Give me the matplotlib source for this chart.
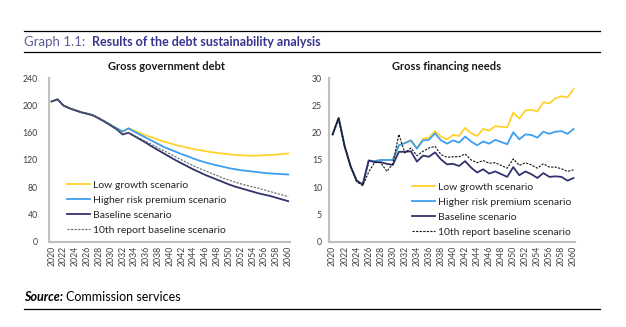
import matplotlib
matplotlib.use("Agg")
import matplotlib.pyplot as plt
from matplotlib.lines import Line2D

plt.rcParams['font.family'] = ['Lato', 'DejaVu Sans']

years = list(range(2020, 2061))

# Gross government debt (% of GDP)
debt_low = [206, 209, 200, 196, 193, 190, 188, 185.5, 181, 176.5, 171.5, 166.5, 162, 166.5,
            163, 159.5, 156, 153, 150, 147, 144.5, 142, 140, 138, 136, 134.5, 133, 131.5,
            130.5, 129.3, 128.3, 127.5, 127, 126.5, 126.3, 126.5, 127, 127.5, 128, 128.8, 129.5]
debt_hrp = [206, 209, 200, 196, 193, 190, 188, 185.5, 181, 176.5, 171.5, 166.5, 162, 166.5,
            161.5, 157, 152.5, 148, 143.5, 139, 135.5, 132, 128.5, 125.5, 122, 119, 116.5, 114,
            112, 110, 108, 106.5, 105, 104, 103, 102, 101, 100.3, 99.7, 99.2, 98.7]
debt_base = [206, 209, 200, 196, 193, 190, 188, 185.5, 181, 176, 170.5, 165, 157.5, 160,
             155, 150, 145, 139.5, 134.5, 129.5, 124.5, 119.5, 115, 110.5, 106, 102, 98, 94.5,
             91, 87.5, 84, 81, 78.5, 76, 73.5, 71, 69, 67, 64.5, 62, 59.5]
debt_10th = [206, 209, 200, 196, 193, 190, 188, 185.5, 181, 176, 170.5, 165, 158.5, 160.5,
             156, 151.5, 147, 142.5, 138, 133.5, 129, 124.5, 120, 115.5, 111.5, 107.5, 104, 100.5,
             97, 93.5, 90.5, 87.5, 85, 82.5, 80.5, 78.5, 76, 73.5, 71, 68.5, 66]

# Gross financing needs (% of GDP)
gfn_low = [19.7, 22.7, 17.5, 13.8, 11.2, 10.5, 14.9, 14.8, 15.0, 15.0, 15.0, 17.7, 18.1, 18.6,
           17.1, 18.9, 19.1, 20.3, 19.3, 18.8, 19.6, 19.4, 20.9, 19.9, 19.4, 20.7, 20.4, 21.2,
           21.1, 21.0, 23.7, 22.6, 24.1, 24.2, 23.9, 25.6, 25.4, 26.3, 26.7, 26.5, 28.0]
gfn_hrp = [19.7, 22.7, 17.5, 13.8, 11.2, 10.5, 14.9, 14.8, 15.0, 15.0, 15.0, 17.7, 18.1, 18.6,
           17.1, 18.6, 18.7, 19.9, 18.6, 18.0, 18.6, 18.2, 19.3, 18.4, 17.7, 18.4, 18.0, 18.7,
           18.3, 17.9, 20.1, 18.8, 19.7, 19.6, 19.1, 20.2, 19.8, 20.2, 20.3, 19.8, 20.7]
gfn_base = [19.7, 22.7, 17.5, 13.8, 11.2, 10.5, 14.9, 14.6, 14.6, 14.3, 14.1, 16.5, 16.5, 16.6,
            14.7, 15.8, 15.6, 16.4, 15.1, 14.2, 14.3, 13.9, 14.8, 13.6, 12.7, 13.3, 12.5, 12.9,
            12.4, 11.9, 13.7, 12.2, 12.9, 12.4, 11.7, 12.6, 11.9, 12.0, 11.9, 11.2, 11.7]
gfn_10th = [19.7, 22.7, 17.5, 13.8, 11.0, 10.3, 12.8, 14.6, 14.5, 12.9, 14.3, 19.7, 16.3, 17.2,
            15.8, 16.6, 17.2, 17.5, 16.0, 15.5, 15.6, 15.6, 16.1, 15.0, 14.5, 14.9, 14.4, 14.5,
            14.0, 13.5, 15.2, 14.0, 14.5, 14.1, 13.5, 14.3, 13.7, 13.7, 13.4, 12.9, 13.2]

labels = ["Low growth scenario", "Higher risk premium scenario",
          "Baseline scenario", "10th report baseline scenario"]
c_low, c_hrp, c_base = "#ffd22e", "#3d9ff0", "#32326e"

W, H = 626, 327
fig = plt.figure(figsize=(W / 100, H / 100), dpi=100)

def px(x, y):
    return x / W, 1 - y / H

def style(ax):
    for s in ["top", "right"]:
        ax.spines[s].set_visible(False)
    for s in ["left", "bottom"]:
        ax.spines[s].set_color("#c0c0c0")
        ax.spines[s].set_linewidth(1.5)
    ax.tick_params(length=0, labelsize=6.3, colors="#404040")
    ax.set_xticks(years[::2])
    ax.set_xticklabels([str(y) for y in years[::2]], rotation=90)

bottom = (H - 241.7) / H
height = 163.4 / H

ax1 = fig.add_axes([49 / W, bottom, 241 / W, height])
ax1.plot(years, debt_low, color=c_low, lw=1.3)
ax1.plot(years, debt_hrp, color=c_hrp, lw=1.3)
ax1.plot(years, debt_base, color=c_base, lw=1.3)
ax1.plot(years, debt_10th, color="#666666", lw=0.8, ls=(0, (2, 1.2)))
ax1.set_xlim(2019.55, 2060.3)
ax1.set_ylim(0, 240)
ax1.set_yticks(range(0, 241, 40))
style(ax1)
ax1.tick_params(axis="y", pad=8)
ax1.tick_params(axis="x", pad=3)

ax2 = fig.add_axes([329 / W, bottom, 246 / W, height])
ax2.plot(years, gfn_low, color=c_low, lw=1.3)
ax2.plot(years, gfn_hrp, color=c_hrp, lw=1.3)
ax2.plot(years, gfn_base, color=c_base, lw=1.3)
ax2.plot(years, gfn_10th, color="#111111", lw=0.8, ls=(0, (2, 1.2)))
ax2.set_xlim(2019.4, 2060.25)
ax2.set_ylim(0, 30)
ax2.set_yticks(range(0, 31, 5))
style(ax2)
ax2.tick_params(axis="y", pad=5)
ax2.tick_params(axis="x", pad=3)

def legend(ax, dash_color, x, y):
    handles = [Line2D([], [], color=c_low, lw=1.3),
               Line2D([], [], color=c_hrp, lw=1.3),
               Line2D([], [], color=c_base, lw=1.3),
               Line2D([], [], color=dash_color, lw=0.8, ls=(0, (2, 1.2)))]
    ax.legend(handles, labels, loc="upper left", bbox_to_anchor=px(x, y),
              bbox_transform=fig.transFigure, frameon=False, fontsize=7.5,
              borderpad=0, borderaxespad=0, handlelength=2.2, handletextpad=0.35,
              labelspacing=0.55, labelcolor="#262626")

legend(ax1, "#666666", 66.7, 180.5)
legend(ax2, "#111111", 411.7, 182.5)

fig.text(*px(166, 67), "Gross government debt", ha="center", va="center",
         fontsize=8, fontweight="bold", color="#1a1a1a")
fig.text(*px(447, 67), "Gross financing needs", ha="center", va="center",
         fontsize=8, fontweight="bold", color="#1a1a1a")

# header and footer
fig.text(*px(24, 42.5), "Graph 1.1:", ha="left", va="center", fontsize=9.5, color="#5c5c94")
fig.text(*px(92.5, 42.5), "Results of the debt sustainability analysis", ha="left",
         va="center", fontsize=9, fontweight="bold", color="#35358f")
for yy in (31, 52):
    fig.add_artist(Line2D([24 / W, 600 / W], [1 - yy / H] * 2, color="black", lw=0.9))
fig.text(*px(24, 297), "Source:", ha="left", va="center", fontsize=9,
         fontweight="bold", fontstyle="italic", color="black")
fig.text(*px(66, 297), "Commission services", ha="left", va="center", fontsize=9,
         color="black")
fig.add_artist(Line2D([24 / W, 600 / W], [1 - 309 / H] * 2, color="black", lw=0.9))

fig.savefig("out.png", dpi=100)
